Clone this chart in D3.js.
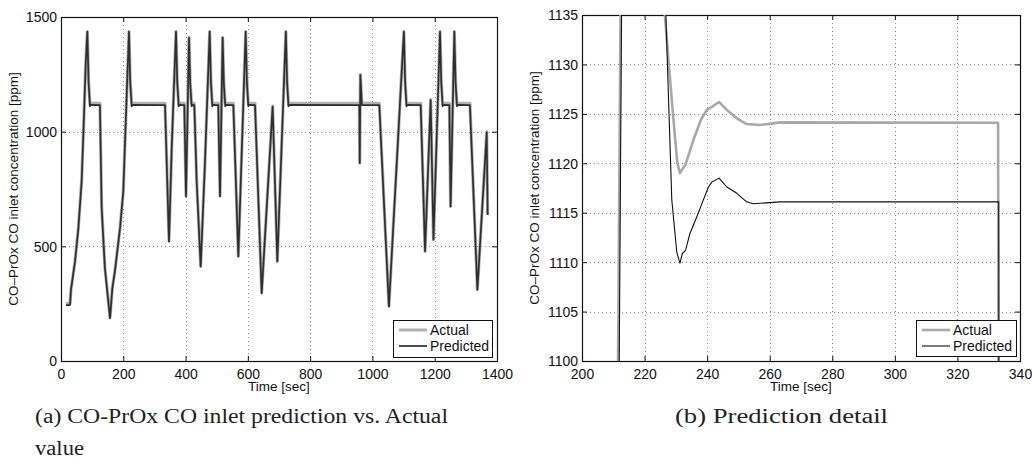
<!DOCTYPE html>
<html><head><meta charset="utf-8">
<script src="https://cdn.jsdelivr.net/npm/d3@7"></script>
<style>
html,body{margin:0;padding:0;background:#fff;}
svg{display:block;}
text{font-family:"Liberation Sans",Arial,sans-serif;fill:#111;}
.cap{font-family:"Liberation Serif","DejaVu Serif",serif;fill:#222;}
</style></head>
<body>
<svg id="chart" width="1032" height="467"></svg>
<script>
// ---------- Data: (a) full run ----------
const leftTime = [16,29,32,45,55.7,66.3,73.9,79.2,84.6,88.6,93.1,96,125,130.6,141,157.4,164.9,173,189.5,200,208.7,218.3,222.3,227,230,334,346.8,355.4,369.3,373.3,378,381,396,401.4,411,415,419.6,422,428,435.7,448.5,462,477.4,481.4,486,489,505,510.6,519,523,527.5,530,553.4,569.4,593,597,601.5,604.5,623,644.4,679.6,694.6,722,726,730.5,733.5,958,959.3,961.3,966,1022,1053,1101,1105,1109.5,1112.5,1155,1169,1187,1196,1217,1221,1225.5,1228.5,1247,1251,1263,1267,1271.5,1274.5,1313,1337,1367,1370];
const leftPredicted = [244,244,310,433,578,782,1073,1291,1436,1215,1110,1117,1116,666,404,186,317,390,578,738,1073,1436,1215,1110,1117,1116,520,927,1436,1215,1110,1117,1116,717,1410,1205,1110,1117,1116,782,411,855,1436,1215,1110,1117,1116,717,1410,1205,1110,1117,1116,455,1436,1215,1110,1117,1116,295,1109,433,1436,1215,1110,1117,1116,862,1247,1116,1116,237,1436,1215,1110,1117,1116,477,1138,528,1436,1215,1110,1117,1116,673,1436,1215,1110,1117,1116,310,997,637];
const leftActual = [250,250,312,435,580,785,1075,1293,1436,1220,1119,1125,1124,670,406,190,320,392,580,740,1075,1436,1220,1119,1125,1124,524,930,1436,1220,1119,1125,1124,722,1410,1210,1119,1125,1124,785,414,858,1436,1220,1119,1125,1124,722,1410,1210,1119,1125,1124,458,1436,1220,1119,1125,1124,298,1112,436,1436,1220,1119,1125,1124,866,1250,1124,1124,240,1436,1220,1119,1125,1124,480,1140,531,1436,1220,1119,1125,1124,676,1436,1220,1119,1125,1124,313,1000,640];

// ---------- Data: (b) detail ----------
const rightTimeActual = [209.5,219,225.3,226.5,227.5,228.7,229.8,230.5,231.3,231.8,233,233.5,235.6,238,239.9,241.5,243.8,246.3,249.5,252.6,256.9,261,263.3,333,333.3];
const rightActual = [1010,1433,1190,1135,1131,1126.4,1122.35,1120,1119,1119.3,1119.8,1120.3,1122.35,1124.4,1125.4,1125.7,1126.2,1125.4,1124.55,1123.97,1123.87,1124.04,1124.14,1124.1,1050];
const rightTimePredicted = [210,219,225.5,226.8,228.7,230.3,231.3,232.1,233.1,234.5,236.7,238.8,240.4,241.5,243.8,246.3,249.5,252.6,254.7,259,263.3,333.2,333.4];
const rightPredicted = [1011,1433,1190,1135,1116.3,1111,1109.9,1110.9,1111.2,1112.9,1114.6,1116.3,1117.6,1118.1,1118.5,1117.6,1116.96,1116.1,1115.9,1116.0,1116.1,1116.1,1050];

const leftXTicks = [0,200,400,600,800,1000,1200,1400];
const leftYTicks = [0,500,1000,1500];
const rightXTicks = [200,220,240,260,280,300,320,340];
const rightYTicks = [1100,1105,1110,1115,1120,1125,1130,1135];
const seriesNames = ["Actual","Predicted"];
const captionA = ["(a) CO-PrOx CO inlet prediction vs. Actual","value"];
const captionB = "(b) Prediction detail";
const yLabel = "CO\u2013PrOx CO inlet concentration [ppm]";
const xLabel = "Time [sec]";

const svg = d3.select("#chart");
const fmt = d3.format("d");

function panel(cfg){
  const {x0,x1,y0,y1,xDom,yDom,xTicks,yTicks,id} = cfg;
  const x = d3.scaleLinear().domain(xDom).range([x0,x1]);
  const y = d3.scaleLinear().domain(yDom).range([y1,y0]);
  const g = svg.append("g");
  g.append("clipPath").attr("id",id).append("rect")
    .attr("x",x0).attr("y",y0).attr("width",x1-x0).attr("height",y1-y0);
  // grid
  const grid = g.append("g").attr("stroke","#8a8a8a").attr("stroke-width",1).attr("stroke-dasharray","1,3");
  xTicks.slice(1,-1).forEach(t=>grid.append("line").attr("x1",Math.round(x(t))+0.5).attr("x2",Math.round(x(t))+0.5).attr("y1",y0).attr("y2",y1));
  yTicks.slice(1,-1).forEach(t=>grid.append("line").attr("y1",Math.round(y(t))+0.5).attr("y2",Math.round(y(t))+0.5).attr("x1",x0).attr("x2",x1));
  // axes via d3
  const tl = 5;
  const bottom = g.append("g").attr("transform",`translate(0,${y1})`)
    .call(d3.axisBottom(x).tickValues(xTicks).tickFormat(fmt).tickSizeInner(-tl).tickSizeOuter(0).tickPadding(8));
  const top = g.append("g").attr("transform",`translate(0,${y0})`)
    .call(d3.axisTop(x).tickValues(xTicks).tickSizeInner(-tl).tickSizeOuter(0).tickFormat(""));
  const left = g.append("g").attr("transform",`translate(${x0},0)`)
    .call(d3.axisLeft(y).tickValues(yTicks).tickFormat(fmt).tickSizeInner(-tl).tickSizeOuter(0).tickPadding(4));
  const right = g.append("g").attr("transform",`translate(${x1},0)`)
    .call(d3.axisRight(y).tickValues(yTicks).tickSizeInner(-tl).tickSizeOuter(0).tickFormat(""));
  [bottom,top,left,right].forEach(a=>{
    a.select(".domain").remove();
    a.selectAll("line").attr("stroke","#111");
    a.selectAll("text").attr("font-size","14px").attr("fill","#111")
      .attr("font-family","Liberation Sans, Arial, sans-serif");
  });
  bottom.selectAll("text").attr("dy","0.71em");
  left.selectAll("text").attr("dy","0.35em");
  g.append("rect").attr("x",x0+0.5).attr("y",y0+0.5).attr("width",x1-x0).attr("height",y1-y0)
    .attr("fill","none").attr("stroke","#111").attr("stroke-width",1.2);
  // labels
  g.append("text").attr("x",(x0+x1)/2).attr("y",y1+30).attr("text-anchor","middle")
    .attr("font-size","13.5px").text(xLabel);
  g.append("text").attr("transform",`translate(${x0-43},${(y0+y1)/2}) rotate(-90)`)
    .attr("text-anchor","middle").attr("font-size","13.5px").text(yLabel);
  return {x,y,g};
}

// ---------- Panel (a) ----------
const A = panel({id:"clipA",x0:61,x1:497,y0:17,y1:361,xDom:[0,1400],yDom:[0,1500],xTicks:leftXTicks,yTicks:leftYTicks});
const lineA = d3.line().x(d=>A.x(d[0])).y(d=>A.y(d[1]));
const plotA = A.g.append("g").attr("clip-path","url(#clipA)");
plotA.append("path").datum(leftTime.map((t,i)=>[t,leftActual[i]]))
  .attr("d",lineA).attr("fill","none").attr("stroke","#b0b0b0").attr("stroke-width",3.2).attr("stroke-linejoin","round");
plotA.append("path").datum(leftTime.map((t,i)=>[t,leftPredicted[i]]))
  .attr("d",lineA).attr("fill","none").attr("stroke","#2e2e2e").attr("stroke-width",1.7).attr("stroke-linejoin","round");

// ---------- Panel (b) ----------
const B = panel({id:"clipB",x0:582,x1:1020,y0:15,y1:361,xDom:[200,340],yDom:[1100,1135],xTicks:rightXTicks,yTicks:rightYTicks});
const lineB = d3.line().x(d=>B.x(d[0])).y(d=>B.y(d[1]));
const plotB = B.g.append("g").attr("clip-path","url(#clipB)");
plotB.append("path").datum(rightTimeActual.map((t,i)=>[t,rightActual[i]]))
  .attr("d",lineB).attr("fill","none").attr("stroke","#a8a8a8").attr("stroke-width",2.6).attr("stroke-linejoin","round");
plotB.append("path").datum(rightTimePredicted.map((t,i)=>[t,rightPredicted[i]]))
  .attr("d",lineB).attr("fill","none").attr("stroke","#111").attr("stroke-width",1.1).attr("stroke-linejoin","round");

// ---------- Legends ----------
function legend(x,y,w,h,styles){
  const lg = svg.append("g");
  lg.append("rect").attr("x",x+0.5).attr("y",y+0.5).attr("width",w).attr("height",h)
    .attr("fill","#fff").attr("stroke","#111").attr("stroke-width",1);
  seriesNames.forEach((n,i)=>{
    const yy = y+10+i*16;
    lg.append("line").attr("x1",x+6).attr("x2",x+34).attr("y1",yy).attr("y2",yy)
      .attr("stroke",styles[i].c).attr("stroke-width",styles[i].w);
    lg.append("text").attr("x",x+37).attr("y",yy).attr("dy","0.35em").attr("font-size","14px").text(n);
  });
}
legend(393,320,99,37,[{c:"#b0b0b0",w:3},{c:"#2e2e2e",w:1.7}]);
legend(916,320,100,36,[{c:"#a8a8a8",w:2.6},{c:"#111",w:1.1}]);

// ---------- Captions ----------
svg.append("text").attr("class","cap").attr("x",35).attr("y",423).attr("font-size","20px")
  .attr("textLength",413).attr("lengthAdjust","spacingAndGlyphs").text(captionA[0]);
svg.append("text").attr("class","cap").attr("x",35).attr("y",455).attr("font-size","20px")
  .attr("textLength",49).attr("lengthAdjust","spacingAndGlyphs").text(captionA[1]);
svg.append("text").attr("class","cap").attr("x",675).attr("y",423).attr("font-size","20px")
  .attr("textLength",213).attr("lengthAdjust","spacingAndGlyphs").text(captionB);
</script>
</body></html>
